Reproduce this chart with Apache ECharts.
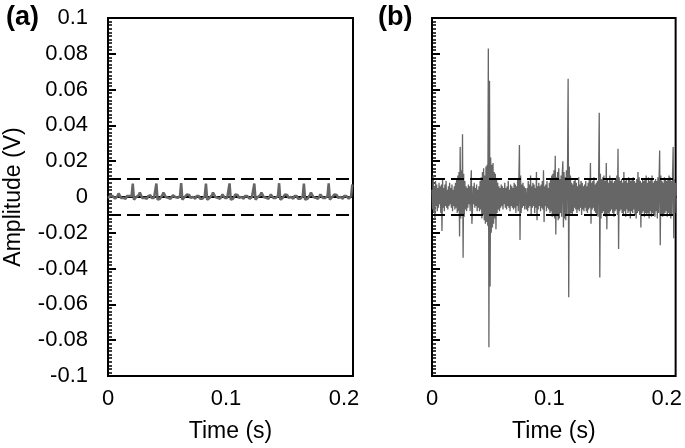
<!DOCTYPE html>
<html>
<head>
<meta charset="utf-8">
<script src="https://cdn.jsdelivr.net/npm/echarts@6/dist/echarts.min.js"></script>
<style>
  html, body { margin: 0; padding: 0; background: #fff; }
  #main { width: 685px; height: 448px; }
</style>
</head>
<body>
<div id="main"></div>
<script>
// sample spacing (s) of each record
const dtA = 0.001;
const dtB = 0.0005;
const timeMax = 0.2076;
const threshold = 0.01;

// (a) amplitude in mV
const ampA = [
  -0.5, -1, 0.5, 1.5, 0.5, -0.5, -1, -0.5, 0.5, 2, 1, -0.5, -1, -0.5, 0, -1, 0.5, 1.5, 0.5, -0.5, 0.5,
  7.5,
  -1.5, -1, 0, -0.5, 1, 2.5, 1, -0.5, -1, -0.5, 0, -1, 0.5, 1.5, 1, -0.5, -1, -0.5, 0.5,
  7.5,
  -1.5, -0.5, -1, 0, 1, 2.5, 1.5, 0, -1, -0.5, 0, -1, -0.5, 1, 1.5, 0, -1, -0.5, 0, 0.5,
  7.8,
  -1.5, -1, 0, -0.5, 1.5, 2.5, 1, -0.5, -1, 0, -0.5, -1, 0.5, 1.5, 0.5, -1, -0.5, -1, 0, 0.5,
  7.5,
  -1.5, -1, -0.5, 0, 1, 2.5, 1.5, 0, -1, -0.5, 0, -1, 0, 1.5, 1, -0.5, -1, -0.5, 0.5,
  7.6,
  -1.5, -0.5, -1, 0, 1.5, 2.5, 1, -0.5, -1, 0, -0.5, -1, 0.5, 1.5, 0.5, -0.5, -1, -0.5, 0, 0.5,
  7.5,
  -1.5, -1, 0, -0.5, 1, 2.5, 1.5, 0, -1, -0.5, 0, -1, 0, 1.5, 1, -0.5, -1, -0.5, 0, 0.5,
  7.7,
  -1.5, -1, -0.5, 0, 1.5, 2.5, 1, -0.5, -1, 0, -0.5, -1, 0.5, 1.5, 0.5, -1, -0.5, -1, 0, 0.5,
  7.5,
  -1.5, -0.5, -1, 0, 1, 2.5, 1.5, 0, -1, -0.5, 0, -1, 0, 1.5, 1, -0.5, -1, -0.5, 0, 0.5,
  7.6,
  -1.5, -1, 0, -0.5, 1.5, 2.5, 1, -0.5, -1, 0, -0.5, -1, 0.5, 1.5, 0.5, -0.5, -1, -0.5, 0.5,
  7.0
];

// (b) amplitude in mV
const ampB = [
  4, -7, 12, -9, 6, -12, 9, -5, 7, -8, 5, -6, 8, -4, 6, -9, 7, -19, 10, -6,
  5, -8, 7, -5, 9, -6, 4, -7, 6, -5, 8, -4, 5, -6, 7, -8, 4, -5, 6, -7,
  8, -6, 10, -9, 12, -8, 14, -22, 28, -12, 15, -10, 35, -34, 13, -11, 9, -7, 6, -8,
  5, -6, 7, -4, 6, -8, 5, 15, -15, -7, 6, -4, 8, -6, 5, -5, 7, -8, 4, -6,
  6, -8, 9, -7, 11, -12, 14, -10, 16, -13, 12, -15, 17, -14, 18, -16, 83, -84, 65, -50,
  22, -20, 18, -17, 19, -15, 14, -12, 13, -18, 10, -9, 8, -7, 6, -8, 5, -6, 7, -5,
  6, -7, 5, -4, 8, -6, 5, -7, 6, -5, 9, -6, 4, -8, 7, -5, 6, -6, 5, -7,
  8, -6, 7, -9, 6, -5, 10, -8, 9, 29, -24, 12, -9, 7, -6, 8, -5, 6, -7, 5,
  6, -7, 5, -8, 9, -6, 7, -5, 12, -10, 6, -6, 8, -5, 7, -9, 5, -6, 14, -13,
  6, -7, 8, -5, 6, -8, 7, -6, 9, -7, 15, -14, 6, -5, 7, -8, 9, -6, 5, -7,
  8, -9, 10, -8, 12, -11, 13, -10, 15, -12, 23, -21, 11, -10, 14, -13, 16, -12, 10, -9,
  12, -11, 13, 20, -17, 14, -12, 11, -13, 15, -10, 17, 66, -56, 17, -10, 12, -9, 8, -10,
  7, -8, 9, -6, 10, -7, 8, -9, 6, -7, 11, -8, 7, -6, 9, -10, 8, -7, 6, -8,
  7, -6, 9, -8, 6, -9, 8, -7, 10, -6, 19, -15, 8, -7, 9, -6, 11, -8, 7, -9,
  8, -10, 9, -11, 12, 47, -45, 13, -12, 10, -9, 11, -8, 12, -10, 9, -11, 19, -18, 10,
  -9, 8, -10, 12, -8, 9, -7, 10, -9, 8, -11, 9, -8, 10, -7, 12, -10, 27, -29, 11,
  -8, 9, -7, 10, -9, 8, -10, 14, -8, 9, -11, 10, -7, 8, -9, 11, -8, 10, -12, 9,
  -8, 10, -9, 11, -7, 9, -10, 8, -12, 10, -9, 14, -8, 11, -10, 9, -17, 8, -9, 10,
  -8, 9, -11, 10, -9, 12, -10, 8, -9, 11, -12, 9, -8, 10, -11, 12, -9, 8, -10, 9,
  -11, 10, -8, 9, -12, 11, -9, 10, 26, -27, 12, -10, 9, -11, 8, -10, 11, -9, 10, -8,
  9, -11, 10, -9, 12, -10, 11, -12, 9, -10, 13, 28, -23, 10, -9, 8
];

const panelLabels = ['(a)', '(b)'];
const xTitle = 'Time (s)';
const yTitle = 'Amplitude (V)';

const font = 'Arial, "Liberation Sans", Helvetica, sans-serif';
const lineGray = '#666666';

function toPoints(arr, dt) {
  return arr.map((v, i) => [i * dt, v / 1000]);
}

function makeX(idx) {
  return {
    type: 'value',
    gridIndex: idx,
    min: 0,
    max: timeMax,
    interval: 0.1,
    name: xTitle,
    nameLocation: 'middle',
    nameGap: 44,
    nameTextStyle: { fontFamily: font, fontSize: 23, color: '#000' },
    axisLine: { lineStyle: { color: '#000', width: 2 } },
    axisTick: { show: false },
    splitLine: { show: false },
    axisLabel: {
      fontFamily: font, fontSize: 22, color: '#000', margin: 12,
      formatter: v => Math.abs(v * 10 - Math.round(v * 10)) < 1e-6 ? String(+v.toFixed(1)) : ''
    }
  };
}

function makeY(idx, showLabels) {
  return {
    type: 'value',
    gridIndex: idx,
    min: -0.1,
    max: 0.1,
    interval: 0.02,
    axisLine: { lineStyle: { color: '#000', width: 2 } },
    axisTick: { show: true, inside: true, length: 8, lineStyle: { color: '#000', width: 2 } },
    minorTick: { show: true, splitNumber: 10, length: 4, lineStyle: { color: '#000', width: 1.5 } },
    splitLine: { show: false },
    axisLabel: {
      show: showLabels,
      fontFamily: font, fontSize: 22, color: '#000', margin: 20
    }
  };
}

function thresholdLines() {
  return {
    silent: true,
    symbol: ['none', 'none'],
    label: { show: false },
    lineStyle: { color: '#000', width: 1.8, type: [13, 6] },
    data: [{ yAxis: threshold }, { yAxis: -threshold }]
  };
}

const chart = echarts.init(document.getElementById('main'));

chart.setOption({
  animation: false,
  backgroundColor: '#fff',
  grid: [
    { left: 108, top: 18, width: 245, height: 358, show: true, borderColor: '#000', borderWidth: 2 },
    { left: 432, top: 18, width: 244, height: 358, show: true, borderColor: '#000', borderWidth: 2 }
  ],
  xAxis: [makeX(0), makeX(1)],
  yAxis: [makeY(0, true), makeY(1, false)],
  series: [
    {
      type: 'line',
      xAxisIndex: 0,
      yAxisIndex: 0,
      data: toPoints(ampA, dtA),
      showSymbol: false,
      lineStyle: { color: lineGray, width: 2.5 },
      markLine: thresholdLines()
    },
    {
      type: 'line',
      xAxisIndex: 1,
      yAxisIndex: 1,
      data: toPoints(ampB, dtB),
      showSymbol: false,
      lineStyle: { color: lineGray, width: 1.3 },
      markLine: thresholdLines()
    }
  ],
  graphic: [
    {
      type: 'text', left: 6, top: 4,
      style: { text: panelLabels[0], font: 'bold 27px ' + font, fill: '#000' }
    },
    {
      type: 'text', left: 378, top: 4,
      style: { text: panelLabels[1], font: 'bold 27px ' + font, fill: '#000' }
    },
    {
      type: 'text', x: 14, y: 197, rotation: Math.PI / 2,
      style: { text: yTitle, font: '23px ' + font, fill: '#000', align: 'center', verticalAlign: 'middle' }
    }
  ]
});
</script>
</body>
</html>
